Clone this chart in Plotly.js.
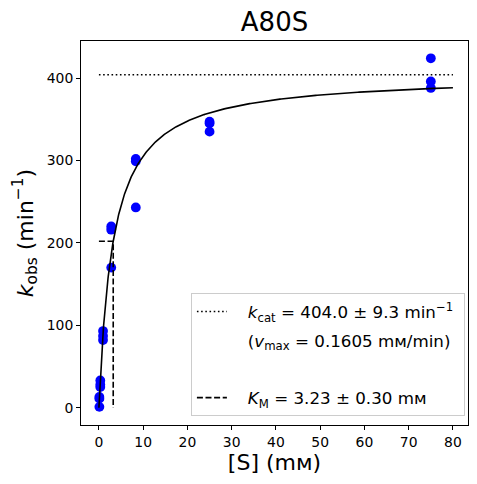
<!DOCTYPE html>
<html>
<head>
<meta charset="utf-8">
<script src="https://cdn.plot.ly/plotly-3.0.1.min.js"></script>
<style>html,body{margin:0;padding:0;background:#fff;}#chart{width:477px;height:484px;}</style>
</head>
<body>
<div id="chart"></div>
<script>
// Substrate concentrations (mM), three replicates each
const substrate = [0.1, 0.1, 0.1, 0.31, 0.31, 0.31, 0.93, 0.93, 0.93, 2.78, 2.78, 2.78, 8.33, 8.33, 8.33, 25, 25, 25, 75, 75, 75];
// Observed rate constants k_obs (min^-1)
const kobs = [1, 11, 13, 25, 28, 33, 82, 87, 93, 170, 216, 220, 243, 299, 302, 335, 345, 347, 388, 396, 424];
// Fit parameters shown in the legend
const kcat = 404.0;
const kcatErr = 9.3;
const KM = 3.23;
const KMerr = 0.30;
const vmax = 0.1605;
const fitRange = [0, 80];
const xTicks = [0, 10, 20, 30, 40, 50, 60, 70, 80];
const yTicks = [0, 100, 200, 300, 400];

// Michaelis-Menten fit curve from the fitted parameters
const fitX = [];
const fitY = [];
for (let i = 0; i <= 400; i++) {
  const s = fitRange[0] + (fitRange[1] - fitRange[0]) * Math.pow(i / 400, 2);
  fitX.push(s);
  fitY.push(kcat * s / (KM + s));
}

const font = "DejaVu Sans, sans-serif";
const pad = '\u00a0\u00a0\u00a0';
const tail = '\u00a0';

const traces = [
  {x: substrate, y: kobs, mode: 'markers', type: 'scatter',
   marker: {color: '#0000ff', size: 9.8}, showlegend: false},
  {x: fitX, y: fitY, mode: 'lines', type: 'scatter',
   line: {color: '#000', width: 1.6}, showlegend: false},
  {x: fitRange, y: [kcat, kcat], mode: 'lines', type: 'scatter',
   line: {color: '#000', width: 1.6, dash: '1.6px,2.6px'},
   name: pad + '<i>k</i><sub>cat</sub> = ' + kcat.toFixed(1) + ' ± ' + kcatErr.toFixed(1) + ' min<sup>−1</sup>' + tail,
   legendgroup: 'a'},
  {x: [null], y: [null], mode: 'lines', type: 'scatter',
   line: {color: 'rgba(0,0,0,0)', width: 0},
   name: pad + '(<i>v</i><sub>max</sub> = ' + vmax.toFixed(4) + ' mᴍ/min)' + tail, legendgroup: 'b'},
  {x: [null], y: [null], mode: 'lines', type: 'scatter',
   line: {color: 'rgba(0,0,0,0)', width: 0},
   name: ' ', legendgroup: 'c'},
  {x: [fitRange[0], KM, KM], y: [kcat / 2, kcat / 2, 0], mode: 'lines', type: 'scatter',
   line: {color: '#000', width: 1.6, dash: '6px,2.6px'},
   name: pad + '<i>K</i><sub>M</sub> = ' + KM.toFixed(2) + ' ± ' + KMerr.toFixed(2) + ' mᴍ' + tail,
   legendgroup: 'd'}
];

const layout = {
  width: 477, height: 484,
  margin: {l: 81, r: 9, t: 41, b: 59},
  paper_bgcolor: '#fff', plot_bgcolor: '#fff',
  font: {family: font, color: '#000', size: 13.9},
  title: {text: 'A80S', font: {family: font, size: 26, color: '#000'},
          x: 0.5, xref: 'paper', y: 1 - 21.7 / 484, yref: 'container', yanchor: 'middle'},
  xaxis: {
    range: [-4.05, 83.4], tickvals: xTicks, ticktext: xTicks.map(String),
    showgrid: false, zeroline: false, showline: true, mirror: true,
    linecolor: '#000', linewidth: 1, ticks: 'outside', ticklen: 4, tickcolor: '#000',
    tickfont: {family: font, size: 13.9},
    title: {text: '[S] (mᴍ)', font: {family: font, size: 22}, standoff: 4}
  },
  yaxis: {
    range: [-21, 445], tickvals: yTicks, ticktext: yTicks.map(String),
    showgrid: false, zeroline: false, showline: true, mirror: true,
    linecolor: '#000', linewidth: 1, ticks: 'outside', ticklen: 4, tickcolor: '#000',
    tickfont: {family: font, size: 13.9},
    title: {text: '<i>k</i><sub>obs</sub> (min<sup>−1</sup>)', font: {family: font, size: 22}, standoff: 7}
  },
  legend: {
    x: 0.992, xanchor: 'right', y: 0.023, yanchor: 'bottom',
    bgcolor: 'rgba(255,255,255,0.8)', bordercolor: '#cccccc', borderwidth: 1,
    font: {family: font, size: 16.7, color: '#000'},
    traceorder: 'grouped', tracegroupgap: 4, itemwidth: 30
  },
  showlegend: true
};

Plotly.newPlot('chart', traces, layout, {displayModeBar: false, staticPlot: true});
</script>
</body>
</html>
